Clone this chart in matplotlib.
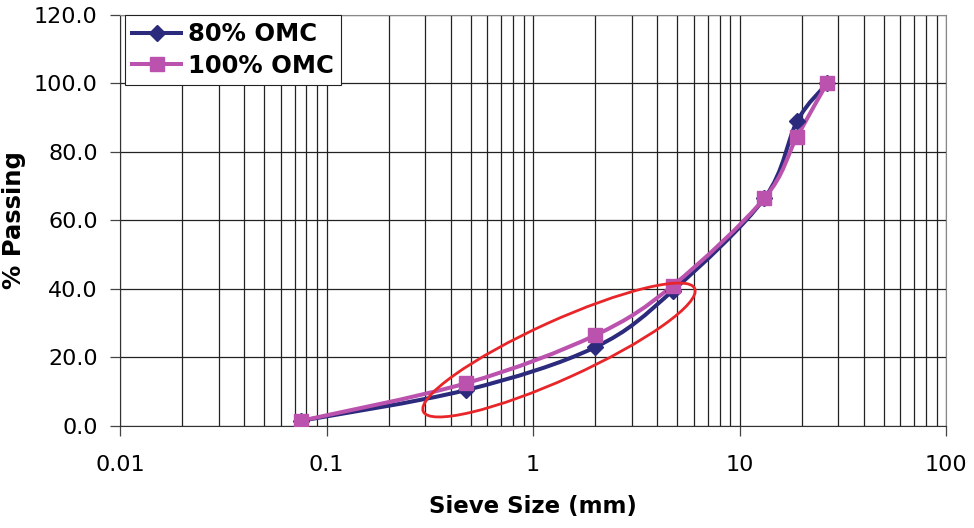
import numpy as np
import matplotlib
matplotlib.use('Agg')
import matplotlib.pyplot as plt
from matplotlib.path import Path
from matplotlib.patches import PathPatch, Ellipse
from matplotlib.lines import Line2D
from matplotlib.ticker import FixedLocator, NullFormatter, FuncFormatter

sieve_mm = [0.075, 0.475, 2.0, 4.75, 13.2, 19.0, 26.5]
pass_80 = [1.5, 10.5, 23.0, 39.5, 66.5, 89.0, 100.0]
pass_100 = [1.5, 12.5, 26.5, 41.0, 66.5, 84.5, 100.0]
series_names = ['80% OMC', '100% OMC']
x_ticks = [0.01, 0.1, 1, 10, 100]
x_labels = ['0.01', '0.1', '1', '10', '100']
y_ticks = [0, 20, 40, 60, 80, 100, 120]

navy = '#2B2A7C'
pink = '#BA52AE'


def smooth_path(xs, ys):
    # Catmull-Rom style bezier (like Excel's smoothed line), built in log-x space
    lx = np.log10(xs)
    y = np.asarray(ys, float)
    pts = np.column_stack([lx, y])
    n = len(pts)
    verts = [pts[0]]
    codes = [Path.MOVETO]
    for i in range(n - 1):
        p0 = pts[max(i - 1, 0)]
        p1 = pts[i]
        p2 = pts[i + 1]
        p3 = pts[min(i + 2, n - 1)]
        c1 = p1 + (p2 - p0) / 6.0
        c2 = p2 - (p3 - p1) / 6.0
        verts += [c1, c2, p2]
        codes += [Path.CURVE4] * 3
    verts = np.array(verts)
    verts[:, 0] = 10 ** verts[:, 0]
    return Path(verts, codes)


fig = plt.figure(figsize=(9.74, 5.28), dpi=100)
ax = fig.add_axes([0.1232, 0.1932, 0.8481, 0.7784])
ax.set_xscale('log')
ax.set_xlim(0.01, 100)
ax.set_ylim(0, 120)

lw = 2.9
for xs, ys, col in [(sieve_mm, pass_80, navy), (sieve_mm, pass_100, pink)]:
    ax.add_patch(PathPatch(smooth_path(xs, ys), facecolor='none', edgecolor=col,
                           lw=lw, zorder=3, capstyle='round'))

ax.plot(sieve_mm, pass_80, linestyle='none', color=navy, marker='D',
        markersize=8, zorder=4)
ax.plot(sieve_mm, pass_100, linestyle='none', color=pink, marker='s',
        markersize=10, zorder=5)

handles = [Line2D([], [], color=navy, lw=lw, marker='D', markersize=8),
           Line2D([], [], color=pink, lw=lw, marker='s', markersize=10)]
leg = ax.legend(handles, series_names, loc='upper left', bbox_to_anchor=(0.006, 1.0),
                prop={'weight': 'bold', 'size': 17.5}, fancybox=False, framealpha=1,
                edgecolor='#222222', borderpad=0.3, handlelength=2.0, handletextpad=0.3,
                labelspacing=0.3, borderaxespad=0.0)
leg.get_frame().set_linewidth(0.8)
leg.set_zorder(6)

# red ellipse annotation (in figure inches)
ell = Ellipse((5.59, 1.78), 2.98, 0.58, angle=24.4, transform=fig.dpi_scale_trans,
              facecolor='none', edgecolor='#E8262A', lw=2.0, zorder=7)
fig.add_artist(ell)

ax.xaxis.set_major_locator(FixedLocator(x_ticks))
ax.xaxis.set_major_formatter(FuncFormatter(lambda v, p: x_labels[x_ticks.index(v)] if v in x_ticks else ''))
minors = [m * d for d in [0.01, 0.1, 1, 10] for m in range(2, 10)]
ax.xaxis.set_minor_locator(FixedLocator(minors))
ax.xaxis.set_minor_formatter(NullFormatter())
ax.set_yticks(y_ticks)
ax.set_yticklabels([f'{v:.1f}' for v in y_ticks])

ax.grid(True, which='both', axis='x', color='#222222', lw=0.9)
ax.grid(True, which='major', axis='y', color='#222222', lw=0.9)
ax.set_axisbelow(True)

ax.tick_params(axis='both', which='major', labelsize=16, length=7, width=0.9, color='#444444')
ax.tick_params(axis='x', which='minor', length=0)
ax.tick_params(axis='x', which='major', pad=14)
ax.tick_params(axis='y', which='major', pad=9)

for s in ['top', 'right']:
    ax.spines[s].set_color('#888888')
for s in ['left', 'bottom']:
    ax.spines[s].set_color('#333333')

ax.set_xlabel('Sieve Size (mm)', fontsize=16.5, fontweight='bold', labelpad=14)
ax.set_ylabel('% Passing', fontsize=17.5, fontweight='bold', labelpad=6)

fig.savefig('out.png', dpi=100)
